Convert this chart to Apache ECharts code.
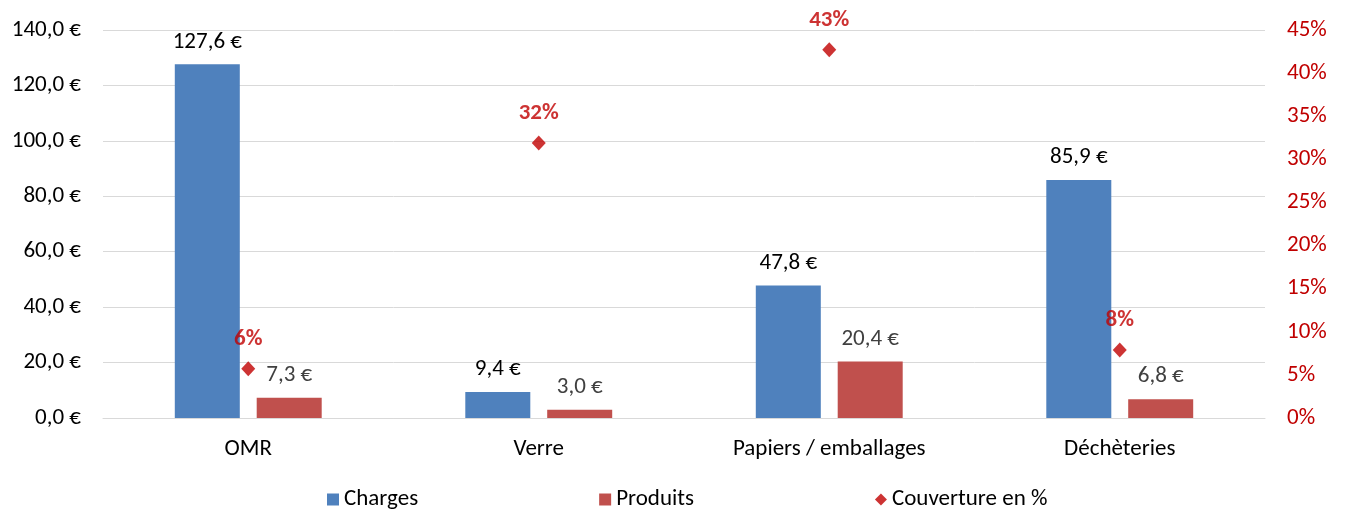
<!DOCTYPE html>
<html>
<head>
<meta charset="utf-8">
<script src="https://cdn.jsdelivr.net/npm/echarts@6/dist/echarts.min.js"></script>
<style>html,body{margin:0;padding:0;background:#fff}#c{width:1346px;height:511px}</style>
</head>
<body>
<div id="c"></div>
<script>
const categories = ['OMR', 'Verre', 'Papiers / emballages', 'Déchèteries'];
const charges = [127.6, 9.4, 47.8, 85.9];
const produits = [7.3, 3.0, 20.4, 6.8];
const couverture = [5.7, 31.9, 42.7, 7.9];
const FONT = "Carlito, 'Liberation Sans Narrow', 'Noto Sans', sans-serif";
const FS = 23;
const eur = v => v.toFixed(1).replace('.', ',') + ' €';

const chart = echarts.init(document.getElementById('c'));
chart.setOption({
  animation: false,
  textStyle: { fontFamily: FONT },
  grid: { left: 103, right: 81, top: 30, bottom: 93 },
  legend: {
    left: 322, top: 483, itemGap: 181, itemWidth: 12, itemHeight: 12,
    textStyle: { fontFamily: FONT, fontSize: FS, color: '#000' },
    data: [
      { name: 'Charges', icon: 'rect' },
      { name: 'Produits', icon: 'rect' },
      { name: 'Couverture en %', icon: 'diamond', itemStyle: { color: '#C00000' } }
    ]
  },
  xAxis: {
    type: 'category', data: categories,
    axisLine: { lineStyle: { color: '#d9d9d9', width: 1 } },
    axisTick: { show: false },
    axisLabel: { color: '#000', fontSize: FS, fontFamily: FONT, margin: 20 }
  },
  yAxis: [
    {
      type: 'value', min: 0, max: 140, interval: 20,
      axisLine: { show: false }, axisTick: { show: false },
      splitLine: { lineStyle: { color: '#d9d9d9', width: 1 } },
      axisLabel: { color: '#000', fontSize: FS, fontFamily: FONT, margin: 22, formatter: eur }
    },
    {
      type: 'value', min: 0, max: 45, interval: 5, position: 'right',
      axisLine: { show: false }, axisTick: { show: false },
      splitLine: { show: false },
      axisLabel: { color: '#C00000', fontSize: FS, fontFamily: FONT, margin: 22, formatter: v => v + '%' }
    }
  ],
  series: [
    {
      name: 'Charges', type: 'bar', data: charges, barWidth: 65, barGap: '26%',
      itemStyle: { color: '#4F81BD' },
      label: { show: true, position: 'top', distance: 11, color: '#000', fontSize: FS, fontFamily: FONT,
        formatter: p => eur(p.value) }
    },
    {
      name: 'Produits', type: 'bar', data: produits, barWidth: 65,
      itemStyle: { color: '#C0504D' },
      label: { show: true, position: 'top', distance: 11, color: '#404040', fontSize: FS, fontFamily: FONT,
        formatter: p => eur(p.value) }
    },
    {
      name: 'Couverture en %', type: 'scatter', yAxisIndex: 1, data: couverture,
      symbol: 'diamond', symbolSize: [14, 15],
      itemStyle: { color: '#C00000' },
      label: { show: true, position: 'top', distance: 11, color: '#C00000', fontWeight: 'bold', fontSize: FS, fontFamily: FONT,
        formatter: p => Math.round(p.value) + '%' }
    }
  ]
});
</script>
</body>
</html>
